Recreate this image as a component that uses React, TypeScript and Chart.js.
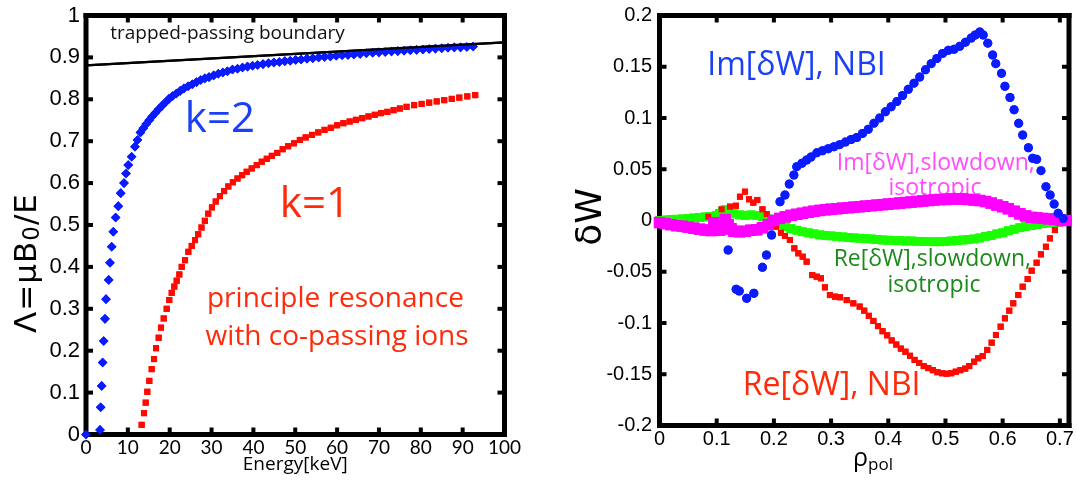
import { useEffect, useRef } from 'react';
import { Chart, registerables } from 'chart.js';

Chart.register(...registerables);

type Pt = [number, number];

// ---------- Left panel: resonance curves, Energy [keV] vs Λ ----------
const energyTicks = [0, 10, 20, 30, 40, 50, 60, 70, 80, 90, 100];
const energyTickLabels = ['0', '10', '20', '30', '40', '50', '60', '70', '80', '90', '100'];
const lambdaTicks = [0, 0.1, 0.2, 0.3, 0.4, 0.5, 0.6, 0.7, 0.8, 0.9, 1];
const lambdaTickLabels = ['0', '0.1', '0.2', '0.3', '0.4', '0.5', '0.6', '0.7', '0.8', '0.9', '1'];

// trapped-passing boundary (straight line)
const boundary: Pt[] = [[0, 0.881], [100, 0.936]];

// k = 2 resonance
const resonanceK2: Pt[] = [
  [0, 0], [3.35, 0.011], [3.5, 0.065], [3.74, 0.116], [3.98, 0.172], [4.22, 0.223], [4.54, 0.276],
  [4.78, 0.323], [5.42, 0.369], [5.73, 0.41], [6.14, 0.448], [6.52, 0.484], [7.09, 0.518], [7.72, 0.545],
  [8.29, 0.576], [9.08, 0.6], [9.56, 0.623], [10.1, 0.643], [10.9, 0.663], [11.7, 0.687], [12.3, 0.703],
  [13.0, 0.721], [13.7, 0.731], [14.4, 0.741], [15.1, 0.75], [15.8, 0.759], [16.6, 0.768], [17.4, 0.777],
  [18.2, 0.785], [19.0, 0.793], [19.8, 0.801], [20.7, 0.808], [21.6, 0.814], [22.5, 0.82], [23.4, 0.826],
  [24.4, 0.831], [25.4, 0.836], [26.4, 0.841], [27.4, 0.846], [28.4, 0.85], [29.4, 0.853], [30.5, 0.857],
  [31.6, 0.861], [32.7, 0.864], [33.8, 0.867], [35.0, 0.871], [36.2, 0.873], [37.4, 0.876], [38.6, 0.878],
  [39.8, 0.88], [41.0, 0.882], [42.3, 0.884], [43.6, 0.886], [44.9, 0.888], [46.2, 0.889], [47.5, 0.891],
  [48.8, 0.892], [50.1, 0.894], [51.4, 0.895], [52.8, 0.897], [54.2, 0.898], [55.6, 0.9], [57.0, 0.901],
  [58.4, 0.902], [59.8, 0.904], [61.2, 0.905], [62.6, 0.906], [64.0, 0.907], [65.5, 0.908], [67.0, 0.91],
  [68.5, 0.911], [70.0, 0.912], [71.5, 0.913], [73.0, 0.914], [74.5, 0.915], [76.0, 0.916], [77.5, 0.917],
  [79.0, 0.918], [80.5, 0.919], [82.0, 0.92], [83.5, 0.921], [85.0, 0.922], [86.5, 0.923], [88.0, 0.924],
  [89.5, 0.924], [91.0, 0.925], [92.5, 0.926],
];

// k = 1 resonance
const resonanceK1: Pt[] = [
  [13.3, 0.023], [13.86, 0.051], [14.27, 0.076], [14.65, 0.102], [15.13, 0.128], [15.7, 0.156],
  [16.25, 0.18], [16.73, 0.206], [17.37, 0.231], [17.92, 0.255], [18.57, 0.277], [19.28, 0.3],
  [19.9, 0.321], [20.48, 0.338], [21.1, 0.353], [21.67, 0.367], [22.3, 0.382], [22.87, 0.4],
  [23.66, 0.416], [24.45, 0.436], [25.26, 0.45], [26.05, 0.464], [26.8, 0.478], [27.6, 0.494],
  [28.4, 0.51], [29.2, 0.527], [30.1, 0.542], [31.0, 0.556], [32.0, 0.569], [33.0, 0.581], [34.0, 0.592],
  [35.1, 0.602], [36.2, 0.611], [37.3, 0.619], [38.4, 0.627], [39.6, 0.635], [40.8, 0.643], [42.0, 0.651],
  [43.2, 0.658], [44.4, 0.665], [45.7, 0.672], [47.0, 0.681], [48.3, 0.688], [49.7, 0.695], [51.1, 0.703],
  [52.5, 0.709], [54.0, 0.715], [55.5, 0.721], [57.0, 0.727], [58.5, 0.732], [60.0, 0.738], [61.5, 0.743],
  [63.0, 0.747], [64.5, 0.751], [66.0, 0.755], [67.5, 0.759], [69.0, 0.763], [70.5, 0.767], [72.0, 0.77],
  [73.5, 0.774], [75.0, 0.778], [76.6, 0.782], [78.4, 0.786], [80.2, 0.789], [82.0, 0.792], [83.8, 0.795],
  [85.6, 0.798], [87.4, 0.801], [89.2, 0.804], [91.1, 0.807], [93.0, 0.81],
];

// ---------- Right panel: δW contributions vs ρpol ----------
const rhoTicks = [0, 0.1, 0.2, 0.3, 0.4, 0.5, 0.6, 0.7];
const rhoTickLabels = ['0', '0.1', '0.2', '0.3', '0.4', '0.5', '0.6', '0.7'];
const dWTicks = [-0.2, -0.15, -0.1, -0.05, 0, 0.05, 0.1, 0.15, 0.2];
const dWTickLabels = ['-0.2', '-0.15', '-0.1', '-0.05', '0', '0.05', '0.1', '0.15', '0.2'];

// Im[δW], NBI
const imNbi: Pt[] = [
  [0.12, -0.0288], [0.134, -0.0671], [0.1395, -0.0688], [0.1524, -0.0759], [0.165, -0.071], [0.18, -0.0457],
  [0.187, -0.0337], [0.196, -0.0141], [0.2107, 0.0183], [0.2194, 0.0249], [0.2269, 0.0356], [0.235, 0.0444],
  [0.24, 0.0525], [0.249, 0.0558], [0.2573, 0.059], [0.265, 0.062], [0.275, 0.066], [0.285, 0.068],
  [0.295, 0.07], [0.305, 0.072], [0.315, 0.074], [0.325, 0.0765], [0.335, 0.079], [0.345, 0.081],
  [0.355, 0.085], [0.365, 0.089], [0.375, 0.095], [0.385, 0.1], [0.395, 0.106], [0.405, 0.111],
  [0.415, 0.116], [0.425, 0.122], [0.435, 0.128], [0.445, 0.134], [0.455, 0.14], [0.465, 0.147],
  [0.475, 0.153], [0.485, 0.158], [0.495, 0.163], [0.505, 0.166], [0.515, 0.167], [0.525, 0.17],
  [0.535, 0.174], [0.545, 0.178], [0.552, 0.181], [0.56, 0.184], [0.566, 0.181], [0.574, 0.173],
  [0.5825, 0.1615], [0.588, 0.153], [0.598, 0.1436], [0.604, 0.131], [0.6128, 0.12], [0.62, 0.108],
  [0.628, 0.0948], [0.635, 0.0834], [0.645, 0.071], [0.6524, 0.0607], [0.6594, 0.0597], [0.667, 0.0486],
  [0.6757, 0.033], [0.683, 0.0249], [0.69, 0.016], [0.697, 0.007], [0.706, 0.002],
];

// Re[δW], NBI
const reNbi: Pt[] = [
  [0.0853, 0.0037], [0.1087, 0.0109], [0.1233, 0.0135], [0.1337, 0.0144], [0.1407, 0.0232], [0.1495, 0.0281],
  [0.1565, 0.0207], [0.164, 0.0174], [0.171, 0.02], [0.18, 0.0109], [0.1874, 0.0063], [0.1944, 0.0005],
  [0.2037, -0.006], [0.2124, -0.0119], [0.2194, -0.0151], [0.228, -0.019], [0.2357, -0.0271], [0.2427, -0.032],
  [0.2503, -0.0353], [0.2573, -0.0402], [0.267, -0.0532], [0.2748, -0.0548], [0.2823, -0.0564], [0.2893, -0.0652],
  [0.298, -0.0727], [0.3068, -0.0743], [0.3156, -0.0749], [0.3273, -0.0776], [0.3388, -0.0808], [0.35, -0.084],
  [0.358, -0.088], [0.366, -0.093], [0.374, -0.098], [0.382, -0.103], [0.39, -0.108], [0.398, -0.112],
  [0.406, -0.117], [0.414, -0.121], [0.422, -0.125], [0.43, -0.128], [0.438, -0.132], [0.446, -0.136],
  [0.454, -0.139], [0.462, -0.142], [0.47, -0.144], [0.478, -0.146], [0.486, -0.148], [0.494, -0.149],
  [0.502, -0.1495], [0.51, -0.149], [0.518, -0.1475], [0.526, -0.146], [0.5345, -0.1445], [0.5416, -0.142],
  [0.55, -0.1378], [0.5573, -0.1344], [0.565, -0.1322], [0.573, -0.1263], [0.5808, -0.1192], [0.5883, -0.1117],
  [0.5965, -0.1036], [0.604, -0.0954], [0.6115, -0.088], [0.6185, -0.0808], [0.6273, -0.0727], [0.635, -0.0646],
  [0.6437, -0.0571], [0.6507, -0.049], [0.6594, -0.0412], [0.667, -0.033], [0.6757, -0.0256], [0.6827, -0.0174],
  [0.6914, -0.0093], [0.7, -0.0027], [0.707, 0.0005],
];

// Re[δW], slowdown, isotropic
const reSlowdown: Pt[] = [
  [0, 0], [0.01, 0.0005], [0.02, 0.001], [0.03, 0.0012], [0.04, 0.0015], [0.05, 0.002], [0.06, 0.0025],
  [0.07, 0.003], [0.08, 0.0035], [0.09, 0.004], [0.1, 0.005], [0.105, 0.007], [0.11, 0.009], [0.115, 0.0105],
  [0.12, 0.0095], [0.125, 0.008], [0.13, 0.0065], [0.14, 0.0055], [0.15, 0.005], [0.16, 0.0055], [0.17, 0.005],
  [0.18, 0.004], [0.19, 0.0015], [0.2, -0.0015], [0.21, -0.004], [0.22, -0.006], [0.23, -0.008], [0.24, -0.0095],
  [0.25, -0.011], [0.26, -0.012], [0.27, -0.013], [0.28, -0.014], [0.29, -0.0145], [0.3, -0.015], [0.31, -0.0155],
  [0.32, -0.016], [0.33, -0.0165], [0.34, -0.017], [0.35, -0.0173], [0.36, -0.0177], [0.37, -0.018], [0.38, -0.0185],
  [0.39, -0.019], [0.4, -0.0192], [0.41, -0.0195], [0.42, -0.0197], [0.43, -0.02], [0.44, -0.02], [0.45, -0.0203],
  [0.46, -0.0205], [0.47, -0.0206], [0.48, -0.0207], [0.49, -0.0207], [0.5, -0.0205], [0.51, -0.02], [0.52, -0.0195],
  [0.53, -0.019], [0.54, -0.0185], [0.55, -0.018], [0.56, -0.017], [0.57, -0.0155], [0.58, -0.0145], [0.59, -0.013],
  [0.6, -0.012], [0.61, -0.01], [0.62, -0.0085], [0.63, -0.007], [0.64, -0.006], [0.65, -0.005], [0.66, -0.004],
  [0.67, -0.003], [0.68, -0.0025], [0.69, -0.002], [0.7, -0.001], [0.71, 0],
];

// Im[δW], slowdown, isotropic
const imSlowdown: Pt[] = [
  [0, -0.002], [0.01, -0.003], [0.02, -0.004], [0.03, -0.005], [0.04, -0.0055], [0.05, -0.0065], [0.06, -0.0075],
  [0.07, -0.0085], [0.08, -0.0093], [0.09, -0.0098], [0.095, -0.002], [0.1, -0.006], [0.105, -0.0095], [0.11, -0.008],
  [0.115, 0.001], [0.12, -0.004], [0.125, -0.008], [0.13, -0.0105], [0.14, -0.011], [0.15, -0.0105], [0.16, -0.0095],
  [0.17, -0.009], [0.18, -0.007], [0.19, -0.004], [0.2, 0], [0.21, 0.002], [0.22, 0.0035], [0.23, 0.005],
  [0.24, 0.006], [0.25, 0.007], [0.26, 0.008], [0.27, 0.009], [0.28, 0.0098], [0.29, 0.0105], [0.3, 0.011],
  [0.31, 0.0115], [0.32, 0.012], [0.33, 0.0125], [0.34, 0.013], [0.35, 0.0135], [0.36, 0.014], [0.37, 0.0145],
  [0.38, 0.015], [0.39, 0.0155], [0.4, 0.016], [0.41, 0.0165], [0.42, 0.017], [0.43, 0.0175], [0.44, 0.018],
  [0.45, 0.0185], [0.46, 0.019], [0.47, 0.0195], [0.48, 0.02], [0.49, 0.0205], [0.5, 0.0205], [0.51, 0.021],
  [0.52, 0.021], [0.53, 0.021], [0.54, 0.0205], [0.55, 0.02], [0.56, 0.0195], [0.57, 0.0185], [0.58, 0.017],
  [0.59, 0.015], [0.6, 0.0135], [0.61, 0.0115], [0.62, 0.009], [0.63, 0.0065], [0.64, 0.0045], [0.65, 0.003],
  [0.66, 0.0025], [0.67, 0.002], [0.68, 0.0015], [0.69, 0.001], [0.7, 0.0005], [0.71, 0],
];

// ---------- text labels placed in data coordinates ----------
type Note = { text: string; x: number; y: number; color: string; size: number };

const SANS = "'Open Sans', sans-serif";
const TICK_FONT = "'Liberation Sans', Arial, sans-serif";
const BLUE_TEXT = '#1a3ff5';
const RED_TEXT = '#ff2a0a';

const energyNotes: Note[] = [
  { text: 'trapped-passing boundary', x: 33.8, y: 0.943, color: '#111111', size: 19 },
  { text: 'k=2', x: 32.0, y: 0.722, color: BLUE_TEXT, size: 42 },
  { text: 'k=1', x: 54.7, y: 0.519, color: RED_TEXT, size: 42 },
  { text: 'principle resonance', x: 59.6, y: 0.305, color: RED_TEXT, size: 28 },
  { text: 'with co-passing ions', x: 60.0, y: 0.214, color: RED_TEXT, size: 28 },
];

const rhoNotes: Note[] = [
  { text: 'Im[δW], NBI', x: 0.2395, y: 0.142, color: BLUE_TEXT, size: 32 },
  { text: 'Im[δW],slowdown,', x: 0.483, y: 0.049, color: '#ff4dff', size: 23 },
  { text: 'isotropic', x: 0.4816, y: 0.0249, color: '#ff4dff', size: 23 },
  { text: 'Re[δW],slowdown,', x: 0.477, y: -0.0444, color: '#1b8a1b', size: 23 },
  { text: 'isotropic', x: 0.48, y: -0.0695, color: '#1b8a1b', size: 23 },
  { text: 'Re[δW], NBI', x: 0.301, y: -0.17, color: RED_TEXT, size: 32 },
];

type Run = { text: string; sub?: boolean };

function drawRuns(
  ctx: CanvasRenderingContext2D,
  runs: Run[],
  cx: number,
  baseline: number,
  size: number,
  subSize: number,
  subShift: number,
  family: string,
  spacing = 0,
) {
  (ctx as any).letterSpacing = `${spacing}px`;
  const widths = runs.map((r) => {
    ctx.font = `${r.sub ? subSize : size}px ${family}`;
    return ctx.measureText(r.text).width;
  });
  const total = widths.reduce((a, b) => a + b, 0);
  let x = cx - total / 2;
  ctx.textAlign = 'left';
  ctx.textBaseline = 'alphabetic';
  runs.forEach((r, i) => {
    ctx.font = `${r.sub ? subSize : size}px ${family}`;
    ctx.fillText(r.text, x, baseline + (r.sub ? subShift : 0));
    x += widths[i];
  });
  (ctx as any).letterSpacing = '0px';
}

const FRAME_W = 5; // frame thickness
const MARK_W = 4; // tick mark thickness
const MARK_L = 7; // tick mark length from frame centre line

function drawFrame(chart: any, xMarks: number[], yMarks: number[]) {
  const ctx = chart.ctx as CanvasRenderingContext2D;
  const sx = chart.scales.x;
  const sy = chart.scales.y;
  const x0 = sx.getPixelForValue(sx.min);
  const x1 = sx.getPixelForValue(sx.max);
  const y0 = sy.getPixelForValue(sy.max);
  const y1 = sy.getPixelForValue(sy.min);
  ctx.save();
  ctx.fillStyle = 'rgb(0,0,0)';
  const h = FRAME_W / 2;
  ctx.fillRect(x0 - h, y0 - h, x1 - x0 + FRAME_W, FRAME_W);
  ctx.fillRect(x0 - h, y1 - h, x1 - x0 + FRAME_W, FRAME_W);
  ctx.fillRect(x0 - h, y0 - h, FRAME_W, y1 - y0 + FRAME_W);
  ctx.fillRect(x1 - h, y0 - h, FRAME_W, y1 - y0 + FRAME_W);
  for (const v of xMarks) {
    const p = sx.getPixelForValue(v);
    ctx.fillRect(p - MARK_W / 2, y0, MARK_W, MARK_L);
    ctx.fillRect(p - MARK_W / 2, y1 - MARK_L, MARK_W, MARK_L);
  }
  for (const v of yMarks) {
    const p = sy.getPixelForValue(v);
    ctx.fillRect(x0, p - MARK_W / 2, MARK_L, MARK_W);
    ctx.fillRect(x1 - MARK_L, p - MARK_W / 2, MARK_L, MARK_W);
  }
  ctx.restore();
}

// Box frame with inward tick marks, in-plot labels and axis titles
function decorPlugin(
  xMarks: number[],
  yMarks: number[],
  notes: Note[],
  titles: (ctx: CanvasRenderingContext2D, cx: number) => void,
) {
  return {
    id: 'panelDecor',
    beforeDatasetsDraw(chart: any) {
      const ctx = chart.ctx as CanvasRenderingContext2D;
      const sx = chart.scales.x;
      const sy = chart.scales.y;
      ctx.save();
      ctx.textAlign = 'center';
      ctx.textBaseline = 'alphabetic';
      for (const n of notes) {
        ctx.fillStyle = n.color;
        ctx.font = `${n.size}px ${SANS}`;
        ctx.fillText(n.text, sx.getPixelForValue(n.x), sy.getPixelForValue(n.y));
      }
      ctx.restore();
    },
    afterDraw(chart: any) {
      drawFrame(chart, xMarks, yMarks);
      // series sit on top of the frame, so they are painted again in stacking order
      const metas = chart.getSortedVisibleDatasetMetas();
      for (let i = metas.length - 1; i >= 0; i--) {
        metas[i].controller.draw();
      }
      const ctx = chart.ctx as CanvasRenderingContext2D;
      const sx = chart.scales.x;
      const mid = (sx.getPixelForValue(sx.min) + sx.getPixelForValue(sx.max)) / 2;
      ctx.save();
      ctx.fillStyle = '#000000';
      titles(ctx, mid);
      ctx.restore();
    },
  };
}

const toXY = (pts: Pt[]) => pts.map(([x, y]) => ({ x, y }));

function makeScale(
  min: number,
  max: number,
  values: number[],
  labels: string[],
  font: { family: string; size: number },
  padding: number,
  fit: (s: any) => void,
) {
  return {
    type: 'linear',
    min,
    max,
    afterBuildTicks: (s: any) => {
      s.ticks = values.map((v) => ({ value: v }));
    },
    afterFit: fit,
    grid: { display: false, drawTicks: false },
    border: { display: false },
    ticks: {
      autoSkip: false,
      maxRotation: 0,
      minRotation: 0,
      padding,
      color: '#000',
      font,
      callback: (_v: any, i: number) => labels[i],
    },
  };
}

const H = 481;
const LEFT_W = 540;
const RIGHT_W = 537;

function EnergyPanel() {
  const ref = useRef<HTMLCanvasElement>(null);
  useEffect(() => {
    const chart = new Chart(ref.current as HTMLCanvasElement, {
      type: 'scatter',
      data: {
        datasets: [
          {
            data: toXY(boundary),
            showLine: true,
            borderColor: '#000',
            borderWidth: 2.2,
            pointRadius: 0,
          },
          {
            data: toXY(resonanceK2),
            pointStyle: 'rectRot',
            pointRadius: 4.8,
            pointBorderWidth: 0,
            backgroundColor: '#0b1bff',
            clip: false,
          },
          {
            data: toXY(resonanceK1),
            pointStyle: 'rect',
            pointRadius: 4.3,
            pointBorderWidth: 0,
            backgroundColor: '#ff0a00',
            clip: false,
          },
        ],
      } as any,
      options: {
        animation: false,
        responsive: false,
        events: [],
        layout: { padding: { left: 0, top: 15.5, right: LEFT_W - 504.5, bottom: 0 } },
        plugins: { legend: { display: false }, tooltip: { enabled: false } },
        scales: {
          x: makeScale(0, 100, energyTicks, energyTickLabels, { family: 'Lato, sans-serif', size: 19 }, 2, (s) => {
            s.height = H - 434.5;
            s.paddingLeft = 0;
            s.paddingRight = 0;
          }),
          y: makeScale(0, 1, lambdaTicks, lambdaTickLabels, { family: TICK_FONT, size: 22 }, 6, (s) => {
            s.width = 86;
            s.paddingTop = 0;
            s.paddingBottom = 0;
          }),
        } as any,
      },
      plugins: [
        decorPlugin(energyTicks.slice(1, -1), lambdaTicks.slice(1, -1), energyNotes, (ctx, mid) => {
          ctx.save();
          ctx.translate(36, 263);
          ctx.rotate(-Math.PI / 2);
          drawRuns(
            ctx,
            [{ text: 'Λ=μB' }, { text: '0', sub: true }, { text: '/E' }],
            0,
            0,
            31,
            23,
            3,
            "'DejaVu Sans', sans-serif",
            1,
          );
          ctx.restore();
          drawRuns(ctx, [{ text: 'Energy[keV]' }], mid, 470, 19, 19, 0, SANS);
        }),
      ],
    } as any);
    return () => chart.destroy();
  }, []);
  return (
    <canvas
      ref={ref}
      width={LEFT_W}
      height={H}
      style={{ position: 'absolute', left: 0, top: 0, width: LEFT_W, height: H }}
    />
  );
}

function RhoPanel() {
  const ref = useRef<HTMLCanvasElement>(null);
  useEffect(() => {
    const chart = new Chart(ref.current as HTMLCanvasElement, {
      type: 'scatter',
      data: {
        datasets: [
          {
            data: toXY(imNbi),
            pointStyle: 'circle',
            pointRadius: 4.5,
            pointBorderWidth: 0,
            backgroundColor: '#0b1bff',
            clip: false,
          },
          {
            data: toXY(imSlowdown),
            pointStyle: 'rect',
            pointRadius: 8,
            pointBorderWidth: 0,
            backgroundColor: '#ff00ff',
            clip: false,
          },
          {
            data: toXY(reNbi),
            pointStyle: 'rect',
            pointRadius: 4.3,
            pointBorderWidth: 0,
            backgroundColor: '#ff0a00',
            clip: false,
          },
          {
            data: toXY(reSlowdown),
            pointStyle: 'rect',
            pointRadius: 6.2,
            pointBorderWidth: 0,
            backgroundColor: '#1aff00',
            clip: false,
          },
        ],
      } as any,
      options: {
        animation: false,
        responsive: false,
        events: [],
        layout: { padding: { left: 0, top: 15.5, right: 8, bottom: 0 } },
        plugins: { legend: { display: false }, tooltip: { enabled: false } },
        scales: {
          x: makeScale(0, 0.716, rhoTicks, rhoTickLabels, { family: TICK_FONT, size: 20 }, 2, (s) => {
            s.height = H - 425.5;
            s.paddingLeft = 0;
            s.paddingRight = 0;
          }),
          y: makeScale(-0.2, 0.2, dWTicks, dWTickLabels, { family: TICK_FONT, size: 20 }, 7.5, (s) => {
            s.width = 119.5;
            s.paddingTop = 0;
            s.paddingBottom = 0;
          }),
        } as any,
      },
      plugins: [
        decorPlugin(rhoTicks.slice(1), dWTicks.slice(1, -1), rhoNotes, (ctx) => {
          ctx.save();
          ctx.translate(61, 217);
          ctx.rotate(-Math.PI / 2);
          drawRuns(ctx, [{ text: 'δW' }], 0, 0, 36, 36, 0, "'DejaVu Sans', sans-serif");
          ctx.restore();
          drawRuns(ctx, [{ text: 'ρ' }, { text: 'pol', sub: true }], 333, 466, 25, 17, 4, SANS);
        }),
      ],
    } as any);
    return () => chart.destroy();
  }, []);
  return (
    <canvas
      ref={ref}
      width={RIGHT_W}
      height={H}
      style={{ position: 'absolute', left: LEFT_W, top: 0, width: RIGHT_W, height: H }}
    />
  );
}

export default function App() {
  return (
    <div
      style={{
        position: 'fixed',
        left: 0,
        top: 0,
        width: 1077,
        height: H,
        background: '#ffffff',
        overflow: 'hidden',
      }}
    >
      <EnergyPanel />
      <RhoPanel />
    </div>
  );
}
